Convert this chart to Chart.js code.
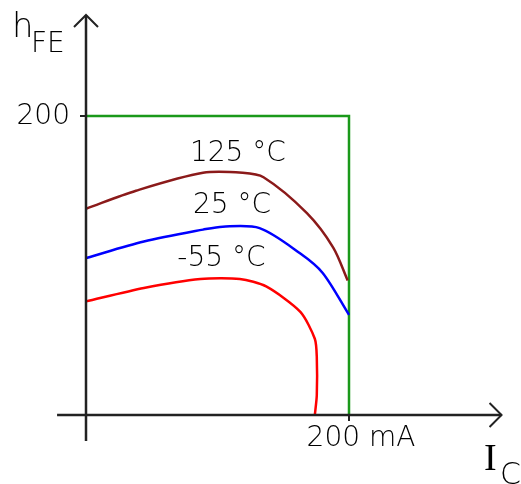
<!DOCTYPE html>
<html>
<head>
<meta charset="utf-8">
<script src="https://cdn.jsdelivr.net/npm/chart.js@4/dist/chart.umd.min.js"></script>
<style>
  html, body { margin: 0; padding: 0; background: #fff; }
  #chart-wrap { width: 521px; height: 484px; }
</style>
</head>
<body>
<div id="chart-wrap"><canvas id="hfe-chart" width="521" height="484"></canvas></div>
<script>
// Curve data: collector current (mA) vs hFE
const icHot = [0, 38, 89, 119, 135, 168, 188, 199];
const hfeHot = [138, 150, 162, 162, 159, 135, 112, 90];

const icRoom = [0, 44, 89, 104, 132, 163, 180, 200];
const hfeRoom = [105, 116, 124, 126, 125, 108, 95, 67];

const icCold = [0, 44, 87, 117, 137, 163, 174, 175.5, 175.5, 174];
const hfeCold = [76, 85, 91, 91, 86, 69, 51, 39, 13, 0];

// Limit box and tick labels
const limitIc = [0, 200, 200];
const limitHfe = [200, 200, 0];
const curveLabels = ['125 °C', '25 °C', '-55 °C'];
const yTickLabel = '200';
const xTickLabel = '200 mA';

const toPoints = (xs, ys) => xs.map((x, i) => ({ x: x, y: ys[i] }));

// Draw arrows, ticks and all text on top of the lines
const annotations = {
  id: 'annotations',
  afterDatasetsDraw(chart) {
    const ctx = chart.ctx;
    const xs = chart.scales.x;
    const ys = chart.scales.y;
    const x0 = xs.getPixelForValue(0);
    const y0 = ys.getPixelForValue(0);
    const xEnd = xs.getPixelForValue(316);
    const yTop = ys.getPixelForValue(267.6);

    ctx.save();
    ctx.strokeStyle = '#222';
    ctx.lineWidth = 2;

    // arrow heads
    ctx.beginPath();
    ctx.moveTo(xEnd - 12, y0 - 12);
    ctx.lineTo(xEnd, y0);
    ctx.lineTo(xEnd - 12, y0 + 12);
    ctx.moveTo(x0 - 12, yTop + 12);
    ctx.lineTo(x0, yTop);
    ctx.lineTo(x0 + 12, yTop + 12);
    ctx.stroke();

    // ticks
    const y200 = ys.getPixelForValue(200);
    const x200 = xs.getPixelForValue(200);
    ctx.beginPath();
    ctx.moveTo(x0 - 6, y200);
    ctx.lineTo(x0, y200);
    ctx.moveTo(x200, y0);
    ctx.lineTo(x200, y0 + 6);
    ctx.stroke();

    ctx.fillStyle = '#000';
    ctx.textBaseline = 'middle';
    ctx.font = '200 28px "DejaVu Sans"';

    ctx.textAlign = 'right';
    ctx.fillText(yTickLabel, x0 - 16, y200 + 1);

    ctx.textAlign = 'center';
    ctx.fillText(xTickLabel, x200 + 12, y0 + 24);

    // curve labels
    ctx.fillText(curveLabels[0], xs.getPixelForValue(115.5), ys.getPixelForValue(175));
    ctx.fillText(curveLabels[1], xs.getPixelForValue(111), ys.getPixelForValue(140));
    ctx.fillText(curveLabels[2], xs.getPixelForValue(103), ys.getPixelForValue(104.5));

    // axis titles
    ctx.textAlign = 'left';
    ctx.textBaseline = 'alphabetic';
    ctx.font = '200 34px "DejaVu Sans"';
    ctx.fillText('h', 12, 37);
    ctx.font = '200 28px "DejaVu Sans"';
    ctx.fillText('FE', 31, 52);

    ctx.font = '38px "Liberation Serif"';
    ctx.fillText('I', 484, 470);
    ctx.font = '200 30px "DejaVu Sans"';
    ctx.fillText('C', 500, 484);
    ctx.restore();
  }
};

const lineSet = (label, data, color, tension) => ({
  label: label,
  data: data,
  showLine: true,
  borderColor: color,
  backgroundColor: color,
  borderWidth: 2.5,
  pointRadius: 0,
  tension: tension,
  fill: false
});

new Chart(document.getElementById('hfe-chart'), {
  type: 'scatter',
  data: {
    datasets: [
      lineSet('x axis', [{ x: -22, y: 0 }, { x: 316, y: 0 }], '#222', 0),
      lineSet('y axis', [{ x: 0, y: -17.4 }, { x: 0, y: 267.6 }], '#222', 0),
      lineSet(curveLabels[0], toPoints(icHot, hfeHot), '#8b1a1a', 0.3),
      lineSet(curveLabels[1], toPoints(icRoom, hfeRoom), '#0000ff', 0.3),
      lineSet(curveLabels[2], toPoints(icCold, hfeCold), '#ff0000', 0.25),
      lineSet('limit', toPoints(limitIc, limitHfe), '#1a991a', 0)
    ]
  },
  options: {
    responsive: false,
    animation: false,
    layout: { padding: 0 },
    scales: {
      x: { type: 'linear', min: -65.4, max: 330.8, display: false },
      y: { type: 'linear', min: -46.15, max: 277.6, display: false }
    },
    plugins: {
      legend: { display: false },
      tooltip: { enabled: false }
    }
  },
  plugins: [annotations]
});
</script>
</body>
</html>
